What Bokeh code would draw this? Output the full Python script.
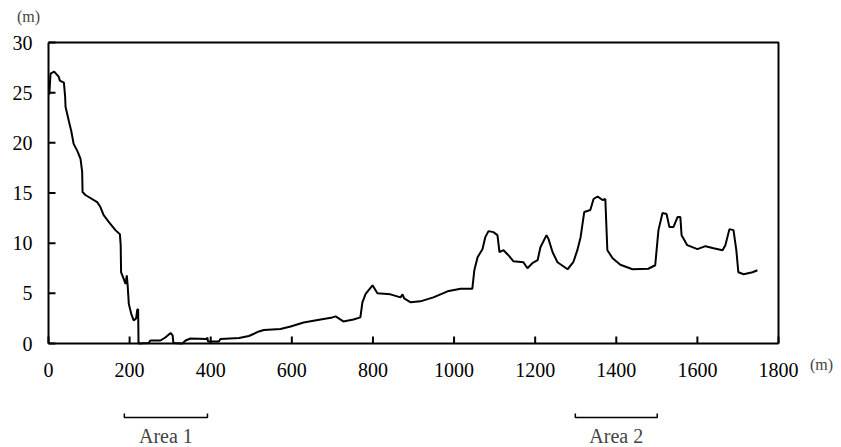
from bokeh.plotting import figure
from bokeh.models import FixedTicker, Label, Range1d
from bokeh.embed import file_html
from bokeh.resources import INLINE

# distance along profile (m) and elevation (m)
distance = [2, 5, 14, 25, 28, 38, 41, 42, 50, 56, 62, 71, 79, 83, 84, 91, 120, 128, 136, 149,
            165, 176, 178, 179, 184, 190, 193, 195, 198, 204, 210, 216, 219, 221, 222, 247, 251,
            276, 288, 301, 306, 308, 330, 338, 350, 390, 392, 393, 420, 424, 470, 494, 519, 531,
            572, 597, 629, 671, 700, 708, 727, 752, 769, 774, 782, 799, 811, 843, 868, 873, 877,
            893, 917, 949, 984, 1016, 1045, 1050, 1058, 1070, 1077, 1085, 1097, 1107, 1112, 1122,
            1134, 1146, 1171, 1181, 1193, 1206, 1213, 1228, 1233, 1243, 1255, 1280, 1294, 1304,
            1312, 1321, 1336, 1344, 1354, 1366, 1373, 1378, 1391, 1410, 1440, 1479, 1496, 1504,
            1514, 1524, 1531, 1541, 1551, 1558, 1561, 1575, 1600, 1620, 1640, 1662, 1669, 1679,
            1689, 1696, 1701, 1714, 1736, 1748]
elevation = [24.8, 26.9, 27.1, 26.6, 26.2, 26.0, 24.6, 23.6, 22.2, 21.2, 19.9, 19.2, 18.4, 17.1,
             15.1, 14.8, 14.1, 13.6, 12.8, 12.1, 11.3, 10.9, 9.8, 7.1, 6.6, 5.95, 6.8, 5.9, 3.95,
             2.96, 2.3, 2.5, 3.4, 3.4, 0.0, 0.05, 0.3, 0.3, 0.6, 1.05, 0.8, 0.05, 0.0, 0.3, 0.5,
             0.45, 0.6, 0.2, 0.2, 0.45, 0.55, 0.75, 1.2, 1.35, 1.45, 1.7, 2.1, 2.4, 2.6, 2.7, 2.2,
             2.4, 2.6, 4.1, 4.95, 5.8, 5.0, 4.9, 4.6, 4.9, 4.5, 4.1, 4.2, 4.6, 5.2, 5.45, 5.45,
             7.3, 8.6, 9.4, 10.6, 11.2, 11.1, 10.8, 9.1, 9.3, 8.8, 8.2, 8.1, 7.5, 8.0, 8.3, 9.6,
             10.8, 10.4, 9.1, 8.1, 7.4, 8.1, 9.3, 10.6, 13.1, 13.3, 14.4, 14.65, 14.3, 14.4, 9.3,
             8.5, 7.85, 7.4, 7.45, 7.8, 11.3, 13.0, 12.9, 11.6, 11.6, 12.6, 12.6, 10.8, 9.8, 9.4,
             9.7, 9.5, 9.3, 9.8, 11.4, 11.3, 9.3, 7.1, 6.9, 7.1, 7.3]

x_ticks = [0, 200, 400, 600, 800, 1000, 1200, 1400, 1600, 1800]
y_ticks = [0, 5, 10, 15, 20, 25, 30]
x_min, x_max = 0, 1800
y_min, y_max = 0, 30

area_names = ["Area 1", "Area 2"]
area_start = [187, 1299]
area_end = [392, 1501]

FONT = "Liberation Serif"

# canvas layout (pixels): plotting box inside the canvas
W, H = 840, 446
BOX_L, BOX_R, BOX_T, BOX_B = 48, 778, 42, 343
ux = (x_max - x_min) / (BOX_R - BOX_L)
uy = (y_max - y_min) / (BOX_B - BOX_T)
TICK = 7  # inward tick length, px

p = figure(width=W, height=H, output_backend="svg", toolbar_location=None,
           x_range=Range1d(x_min - BOX_L * ux, x_max + (W - BOX_R) * ux),
           y_range=Range1d(y_min - (H - BOX_B) * uy, y_max + BOX_T * uy),
           min_border=0)
p.background_fill_color = "white"
p.border_fill_color = "white"
p.outline_line_color = None
p.xgrid.visible = False
p.ygrid.visible = False

p.xaxis.fixed_location = y_min
p.yaxis.fixed_location = x_min
p.xaxis.bounds = (x_min, x_max)
p.yaxis.bounds = (y_min, y_max)

for ax, ticks in ((p.xaxis, x_ticks), (p.yaxis, y_ticks)):
    ax.ticker = FixedTicker(ticks=ticks)
    ax.axis_line_color = "black"
    ax.axis_line_width = 2
    ax.major_tick_in = 0
    ax.major_tick_out = 0
    ax.major_tick_line_color = None
    ax.minor_tick_line_color = None
    ax.major_label_text_font = FONT
    ax.major_label_text_font_size = "20px"
    ax.major_label_text_color = "black"
p.xaxis.major_label_standoff = 19
p.yaxis.major_label_standoff = 16

# inward tick marks at the axis ticks
tick_x0 = list(x_ticks)
tick_y0 = [y_min for _ in x_ticks]
tick_y1 = [y_min + TICK * uy for _ in x_ticks]
p.segment(x0=tick_x0, y0=tick_y0, x1=tick_x0, y1=tick_y1, line_color="black", line_width=2)
tick_ya = list(y_ticks)
tick_xa = [x_min for _ in y_ticks]
tick_xb = [x_min + TICK * ux for _ in y_ticks]
p.segment(x0=tick_xa, y0=tick_ya, x1=tick_xb, y1=tick_ya, line_color="black", line_width=2)

# top and right edges of the plotting box
p.line([x_min, x_max, x_max], [y_max, y_max, y_min], line_color="black", line_width=2)

p.line(distance, elevation, line_color="black", line_width=2)

p.add_layout(Label(x=x_min - 20 * ux, y=y_max + 26 * uy, text="(m)", text_font=FONT,
                   text_font_size="16px", text_align="center", text_baseline="middle"))
p.add_layout(Label(x=x_max + 43 * ux, y=y_min - 21 * uy, text="(m)", text_font=FONT,
                   text_font_size="16px", text_align="center", text_baseline="middle"))

for name, a, b in zip(area_names, area_start, area_end):
    p.multi_line(xs=[[a, a, b, b]], ys=[[y_min - 70 * uy, y_min - 74 * uy, y_min - 74 * uy, y_min - 70 * uy]],
                 line_color="black", line_width=1.5)
    p.add_layout(Label(x=(a + b) / 2, y=y_min - 92 * uy, text=name, text_font=FONT,
                       text_font_size="20px", text_align="center", text_baseline="middle"))

open("out.html", "w").write(file_html(p, INLINE))
